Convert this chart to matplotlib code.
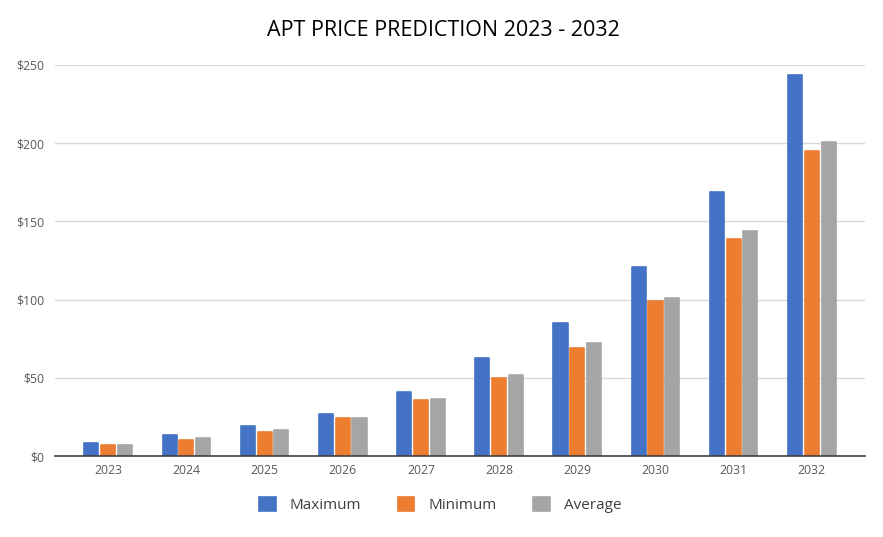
import matplotlib
matplotlib.use("Agg")
import matplotlib.pyplot as plt
import numpy as np

# Data
years = ["2023", "2024", "2025", "2026", "2027", "2028", "2029", "2030", "2031", "2032"]
maximum = [8.5, 13.5, 19.5, 27, 41, 62.5, 85, 121, 169, 243.5]
minimum = [7, 10.5, 15.5, 24.5, 35.5, 50, 69, 99, 139, 195]
average = [7, 11.5, 16.5, 24.5, 36.5, 52, 72, 101, 144, 200.5]
yticks = [0, 50, 100, 150, 200, 250]

series = [("Maximum", maximum, "#4472C4"),
          ("Minimum", minimum, "#ED7D31"),
          ("Average", average, "#A5A5A5")]

plt.rcParams["font.family"] = ["Open Sans", "DejaVu Sans"]

fig = plt.figure(figsize=(8.83, 5.37), dpi=100)
ax = fig.add_axes([55 / 883, 1 - 456 / 537, 810 / 883, 391 / 537])

x = np.arange(len(years))
width = 0.18
step = 0.215
for i, (name, vals, color) in enumerate(series):
    ax.bar(x + (i - 1) * step, vals, width, color=color, label=name,
           edgecolor=color, linewidth=1.2, joinstyle="round", zorder=3)

ax.set_xlim(-0.68, len(years) - 1 + 0.68)
ax.set_ylim(0, 250)
ax.set_yticks(yticks)
ax.set_yticklabels([f"${v}" for v in yticks])
ax.set_xticks(x)
ax.set_xticklabels(years)
ax.tick_params(axis="both", length=0, labelsize=8.8, labelcolor="#595959")
ax.tick_params(axis="y", pad=8)
ax.tick_params(axis="x", pad=6)

ax.grid(axis="y", color="#D9D9D9", linewidth=1, zorder=0)
for side in ["top", "right", "left"]:
    ax.spines[side].set_visible(False)
ax.spines["bottom"].set_color("#404040")
ax.spines["bottom"].set_linewidth(1.2)
ax.spines["bottom"].set_zorder(4)

fig.text(443 / 883, 1 - 30 / 537, "APT PRICE PREDICTION 2023 - 2032",
         ha="center", va="center", fontsize=15.5, color="#000000")

fig.legend(loc="center", bbox_to_anchor=(440 / 883, 1 - 505 / 537), ncol=3,
           frameon=False, fontsize=11, handlelength=1.1, handleheight=1.1,
           columnspacing=2.4, handletextpad=0.9, labelcolor="#404040")

fig.savefig("out.png", dpi=100)
